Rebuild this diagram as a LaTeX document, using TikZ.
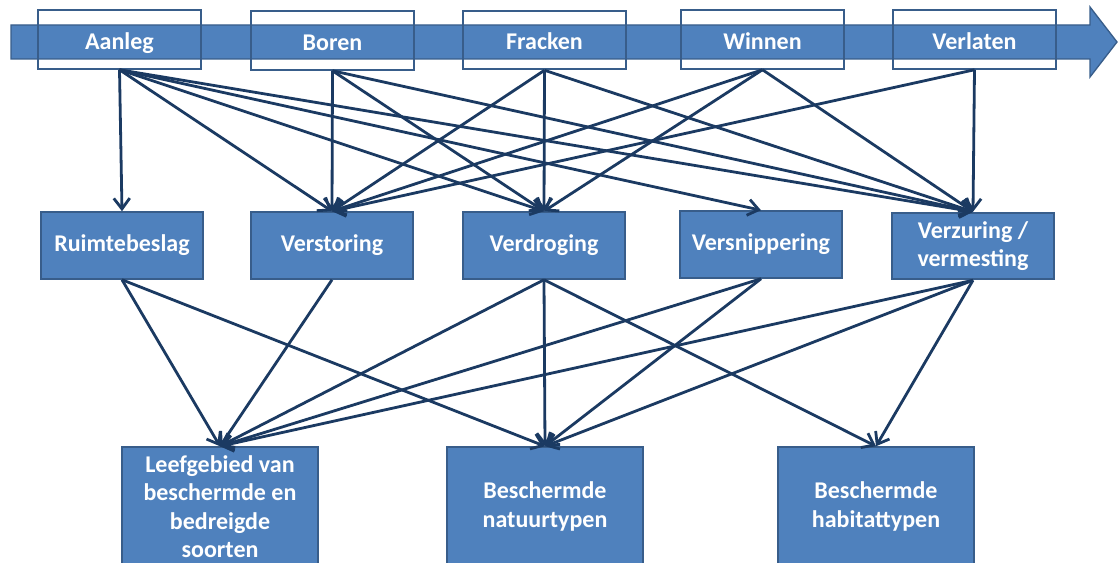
\documentclass[tikz,border=0pt]{standalone}
\usepackage{fontspec}
\setmainfont{Carlito}
\usetikzlibrary{arrows.meta}
\definecolor{boxblue}{HTML}{4F81BD}
\definecolor{boxedge}{HTML}{385D8A}
\definecolor{linkblue}{HTML}{1B3A62}

\begin{document}
\begin{tikzpicture}[x=0.75pt, y=-0.75pt,
  label font/.style={text=white, font=\bfseries\fontsize{18}{21.4}\selectfont},
  phase/.style={draw=boxedge, line width=1.4pt, minimum width=122pt, minimum height=44pt, inner sep=0pt,
    text height=15pt, text depth=0pt, label font},
  effect/.style={draw=boxedge, fill=boxblue, line width=1.4pt, minimum width=121.5pt, minimum height=50pt, inner sep=0pt, align=center, label font},
  target/.style={effect, minimum width=147pt, minimum height=89pt},
  link/.style={draw=linkblue, line width=2.1pt, -{Straight Barb[length=8pt,width=12pt]}}
]
  \useasboundingbox (0,0) rectangle (1118,563);

  % Time line arrow
  \fill[boxblue, draw=boxedge, line width=1pt] (11,25) -- (1090,25) -- (1090,7) -- (1117,42)
    -- (1090,77) -- (1090,59) -- (11,59) -- cycle;

  % Phases
  \node[phase] (aanleg)   at (119.5,39.5) {Aanleg};
  \node[phase] (boren)    at (332.5,40.5) {Boren};
  \node[phase] (fracken)  at (544.5,40)   {Fracken};
  \node[phase] (winnen)   at (762.5,39.5) {Winnen};
  \node[phase] (verlaten) at (974.5,39.5) {Verlaten};

  % Effects
  \node[effect] (ruimte)      at (122,245.5) {Ruimtebeslag};
  \node[effect] (verstoring)  at (332,245.5) {Verstoring};
  \node[effect] (verdroging)  at (544,245.5) {Verdroging};
  \node[effect] (versnipper)  at (761,244.5) {Versnippering};
  \node[effect] (verzuring)   at (973,246)   {Verzuring /\\vermesting};

  % Protected values
  \node[target] (leefgebied) at (220,506.5) {Leefgebied van\\beschermde en\\bedreigde\\soorten};
  \node[target] (natuur)     at (545,506.5) {Beschermde\\natuurtypen};
  \node[target] (habitat)    at (876,506.5) {Beschermde\\habitattypen};

  % Phase -> effect
  \foreach \from/\to in {aanleg/ruimte, aanleg/verstoring, aanleg/verdroging, aanleg/versnipper, aanleg/verzuring,
                         boren/verstoring, boren/verdroging, boren/verzuring,
                         fracken/verstoring, fracken/verdroging, fracken/verzuring,
                         winnen/verstoring, winnen/verdroging, winnen/verzuring,
                         verlaten/verstoring, verlaten/verzuring}
    \draw[link] (\from.south) -- (\to.north);

  % Effect -> protected value
  \foreach \from/\to in {ruimte/leefgebied, ruimte/natuur,
                         verstoring/leefgebied,
                         verdroging/leefgebied, verdroging/natuur, verdroging/habitat,
                         versnipper/leefgebied, versnipper/natuur,
                         verzuring/leefgebied, verzuring/natuur, verzuring/habitat}
    \draw[link] (\from.south) -- (\to.north);
\end{tikzpicture}
\end{document}
